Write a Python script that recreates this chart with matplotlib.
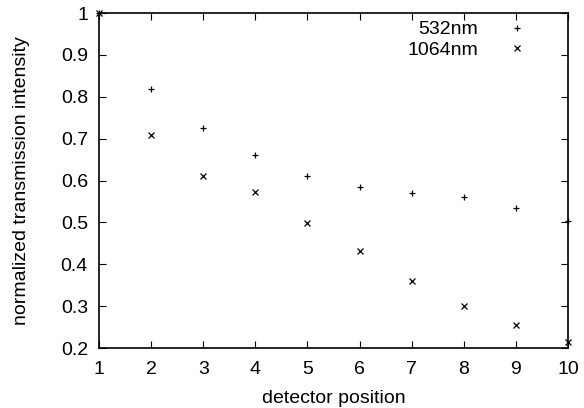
import matplotlib
matplotlib.use("Agg")
from matplotlib import pyplot as plt

plt.rcParams['font.family'] = ['Liberation Sans', 'DejaVu Sans']

position = [1, 2, 3, 4, 5, 6, 7, 8, 9, 10]
green_532 = [1.0, 0.818, 0.726, 0.662, 0.612, 0.584, 0.570, 0.560, 0.534, 0.504]
ir_1064 = [1.0, 0.708, 0.610, 0.573, 0.498, 0.431, 0.360, 0.301, 0.256, 0.214]

fig = plt.figure(figsize=(5.84, 4.08), dpi=100)
ax = fig.add_axes([0.1695, 0.147, 0.803, 0.821])

ax.plot(position, green_532, linestyle='none', marker='+', markersize=5,
        markeredgewidth=0.9, color='black', label='532nm', clip_on=False)
ax.plot(position, ir_1064, linestyle='none', marker='x', markersize=4,
        markeredgewidth=0.9, color='black', label='1064nm', clip_on=False)

ax.set_xlim(1, 10)
ax.set_ylim(0.2, 1)
ax.set_xticks(range(1, 11))
ax.set_yticks([0.2, 0.3, 0.4, 0.5, 0.6, 0.7, 0.8, 0.9, 1.0])
ax.set_yticklabels(['0.2', '0.3', '0.4', '0.5', '0.6', '0.7', '0.8', '0.9', '1'])
ax.tick_params(direction='in', length=5, width=0.8, top=True, right=True,
               labelsize=14, pad=8, colors='black')
ax.tick_params(axis='x', pad=9)
for s in ax.spines.values():
    s.set_linewidth(1.2)

ax.set_xlabel('detector position', fontsize=14, labelpad=9)
ax.set_ylabel('normalized transmission intensity', fontsize=14, labelpad=22)

ax.legend(loc='upper right', frameon=False, markerfirst=False, fontsize=14,
          handlelength=1.0, handletextpad=1.5, labelspacing=0.15,
          borderaxespad=0.0, bbox_to_anchor=(0.929, 1.0))

fig.savefig('out.png', dpi=100)
